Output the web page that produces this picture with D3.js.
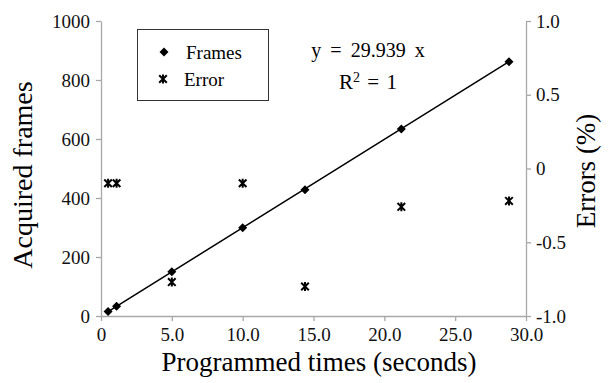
<!DOCTYPE html>
<html>
<head>
<meta charset="utf-8">
<script src="https://cdn.jsdelivr.net/npm/d3@7"></script>
<style>
  body { margin: 0; background: #fff; }
  svg text { font-family: 'Liberation Serif', 'Times New Roman', serif; }
</style>
</head>
<body>
<div id="chart"></div>
<script>
// data
const times = [0.5, 1.1, 5.0, 10.0, 14.4, 21.2, 28.8];
const frames = [15, 33, 150, 299, 428, 634, 862];
const errors = [-0.10, -0.10, -0.77, -0.10, -0.80, -0.26, -0.22];
const xTicks = [0, 5, 10, 15, 20, 25, 30];
const leftTicks = [0, 200, 400, 600, 800, 1000];
const rightTicks = [-1, -0.5, 0, 0.5, 1];
const slope = 29.939;

const width = 610, height = 383;
const margin = { top: 21, right: 84, bottom: 67, left: 101 };
const axisColor = '#a8a8a8';
const serif = 'Liberation Serif';

const svg = d3.select('#chart').append('svg')
  .attr('width', width).attr('height', height);

const x = d3.scaleLinear().domain([0, 30]).range([margin.left, width - margin.right]);
const yL = d3.scaleLinear().domain([0, 1000]).range([height - margin.bottom, margin.top]);
const yR = d3.scaleLinear().domain([-1, 1]).range([height - margin.bottom, margin.top]);

const oneDec = d => d === 0 ? '0' : d.toFixed(1);

function styleAxis(g) {
  g.attr('font-family', serif).attr('font-size', 19);
  g.select('.domain').attr('stroke', axisColor).attr('stroke-width', 1.3);
  g.selectAll('.tick line').attr('stroke', axisColor).attr('stroke-width', 1.3);
  g.selectAll('.tick text').attr('fill', '#111');
}

// left axis
svg.append('g')
  .attr('transform', `translate(${margin.left},0)`)
  .call(d3.axisLeft(yL).tickValues(leftTicks).tickSize(5).tickSizeOuter(0).tickPadding(6)
    .tickFormat(d3.format('d')))
  .call(styleAxis);

// right axis
svg.append('g')
  .attr('transform', `translate(${width - margin.right},0)`)
  .call(d3.axisRight(yR).tickValues(rightTicks).tickSize(5).tickSizeOuter(0).tickPadding(5)
    .tickFormat(oneDec))
  .call(styleAxis);

// bottom axis
svg.append('g')
  .attr('transform', `translate(0,${height - margin.bottom})`)
  .call(d3.axisBottom(x).tickValues(xTicks).tickSize(5).tickSizeOuter(0).tickPadding(7)
    .tickFormat(oneDec))
  .call(styleAxis);

// trend line y = 29.939 x over the data range
const ext = d3.extent(times);
svg.append('line')
  .attr('x1', x(ext[0])).attr('y1', yL(slope * ext[0]))
  .attr('x2', x(ext[1])).attr('y2', yL(slope * ext[1]))
  .attr('stroke', '#000').attr('stroke-width', 1.5);

const diamond = 'M0,-4.5L4.5,0L0,4.5L-4.5,0Z';
const star = 'M-3.8,-3.8L3.8,3.8M-3.8,3.8L3.8,-3.8M0,-4.5L0,4.5';

// frames
svg.append('g').selectAll('path')
  .data(times)
  .join('path')
  .attr('transform', (d, i) => `translate(${x(d)},${yL(frames[i])})`)
  .attr('d', diamond)
  .attr('fill', '#000');

// errors
svg.append('g').selectAll('path')
  .data(times)
  .join('path')
  .attr('transform', (d, i) => `translate(${x(d)},${yR(errors[i])})`)
  .attr('d', star)
  .attr('fill', 'none').attr('stroke', '#000').attr('stroke-width', 2);

// legend
const lg = svg.append('g').attr('font-family', serif).attr('font-size', 19);
lg.append('rect')
  .attr('x', 137.5).attr('y', 29.5).attr('width', 131).attr('height', 71)
  .attr('fill', '#fff').attr('stroke', '#333').attr('stroke-width', 1);
lg.append('path').attr('d', diamond).attr('transform', 'translate(164,52)').attr('fill', '#000');
lg.append('text').attr('x', 186).attr('y', 58.5).text('Frames');
lg.append('path').attr('d', star).attr('transform', 'translate(163,79)')
  .attr('fill', 'none').attr('stroke', '#000').attr('stroke-width', 2);
lg.append('text').attr('x', 184).attr('y', 85.5).text('Error');

// equation
svg.append('text')
  .attr('x', 368).attr('y', 57).attr('text-anchor', 'middle')
  .attr('font-family', serif).attr('font-size', 20).attr('word-spacing', 4)
  .text('y = 29.939 x');
const r2 = svg.append('text')
  .attr('x', 368).attr('y', 88.5).attr('text-anchor', 'middle')
  .attr('font-family', serif).attr('font-size', 21).attr('word-spacing', 2);
r2.append('tspan').text('R');
r2.append('tspan').attr('dy', -7).attr('font-size', 14).text('2');
r2.append('tspan').attr('dy', 7).text(' = 1');

// axis titles
svg.append('text')
  .attr('x', 319).attr('y', 371).attr('text-anchor', 'middle')
  .attr('font-family', serif).attr('font-size', 27)
  .text('Programmed times (seconds)');
svg.append('text')
  .attr('transform', 'translate(32,175) rotate(-90)')
  .attr('text-anchor', 'middle').attr('font-family', serif).attr('font-size', 28)
  .text('Acquired frames');
svg.append('text')
  .attr('transform', 'translate(595,171) rotate(-90)')
  .attr('text-anchor', 'middle').attr('font-family', serif).attr('font-size', 27)
  .text('Errors (%)');
</script>
</body>
</html>
